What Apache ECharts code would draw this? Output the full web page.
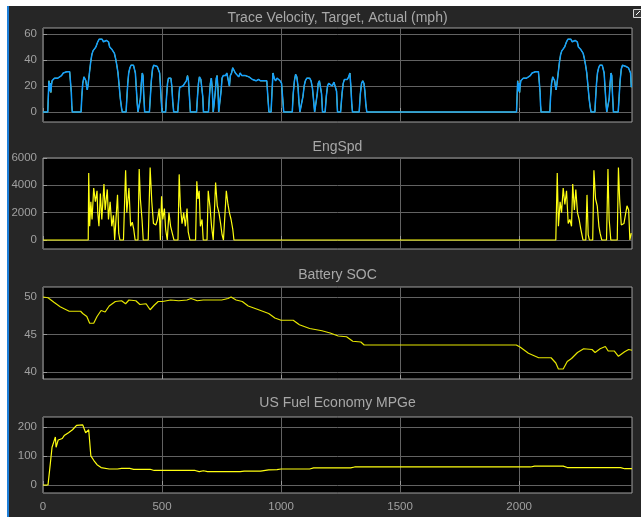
<!DOCTYPE html>
<html>
<head>
<meta charset="utf-8">
<script src="https://cdn.jsdelivr.net/npm/echarts@6/dist/echarts.min.js"></script>
<style>
  html, body { margin: 0; padding: 0; background: #fff; width: 641px; height: 517px; overflow: hidden; }
  .panel { position: absolute; left: 7px; top: 6px; width: 634px; height: 511px; background: #262626; border-left: 2px solid #1e7fd8; box-sizing: border-box; }
  #chart { position: absolute; left: 0; top: 0; width: 641px; height: 517px; }
</style>
</head>
<body>
<div class="panel"></div>
<div id="chart"></div>
<script>
// time axis (s) and tick values
const timeMax = 2474;
const timeTicks = [0, 500, 1000, 1500, 2000];

// vehicle speed (mph): [t, v]
const velCold = [[0,0],[20,0],[22,10],[24,20],[25,24],[26,18],[28,22],[29,16],[31,22],[33,15],[35,20],[38,24],[45,24],[48,26],[55,25],[62,26],[70,27],[78,28],[85,30],[92,31],[100,31],[108,32],[112,31],[115,32],[117,30],[119,15],[121,5],[123,0],[160,0],[163,12],[167,22],[172,27],[176,26],[180,24],[183,20],[186,17],[190,22],[195,30],[200,38],[205,44],[210,47],[215,48],[222,50],[230,54],[236,56],[242,57],[248,56],[254,54],[258,53],[262,53],[266,55],[270,56],[275,54],[280,50],[290,48],[300,45],[305,41],[310,36],[315,30],[320,20],[325,10],[330,3],[333,0],[349,0],[352,10],[356,22],[360,30],[365,34],[370,36],[375,37],[380,36],[384,35],[388,30],[392,18],[396,6],[399,0],[405,0],[409,10],[413,22],[417,30],[420,28],[423,14],[427,0],[447,0],[451,12],[455,24],[460,33],[465,36],[470,36],[480,35],[486,35],[490,30],[494,18],[497,8],[500,0]];
const velStab = [[515,0],[519,12],[523,22],[527,26],[532,25],[537,26],[541,20],[545,8],[549,0],[566,0],[570,10],[574,19],[580,18],[588,20],[596,21],[602,24],[607,28],[611,24],[615,12],[619,0],[645,0],[649,12],[653,22],[657,27],[663,25],[668,24],[671,12],[674,0],[695,0],[699,12],[703,22],[707,26],[711,18],[715,0],[720,0],[724,16],[728,26],[731,28],[735,18],[738,0],[743,0],[748,16],[752,26],[757,28],[762,29],[767,28],[772,30],[778,29],[783,20],[787,28],[792,30],[797,34],[802,33],[808,30],[815,29],[822,27],[828,30],[835,28],[842,29],[850,28],[858,27],[865,27],[872,26],[880,25],[888,26],[895,24],[905,25],[914,24],[920,25],[928,24],[935,25],[940,24],[945,10],[949,0],[958,0],[962,16],[966,30],[971,26],[977,24],[983,26],[990,25],[996,24],[1002,22],[1007,10],[1011,0],[1047,0],[1051,14],[1056,24],[1061,29],[1066,27],[1071,20],[1075,8],[1079,0],[1087,0],[1092,12],[1097,20],[1102,24],[1108,26],[1114,27],[1120,26],[1126,24],[1132,18],[1137,8],[1141,0],[1148,0],[1152,14],[1156,22],[1161,24],[1166,23],[1170,14],[1174,0],[1185,0],[1190,12],[1195,20],[1200,22],[1208,22],[1215,20],[1222,23],[1228,24],[1233,16],[1237,0],[1250,0],[1256,14],[1261,22],[1266,25],[1272,26],[1278,25],[1284,27],[1289,30],[1293,20],[1297,6],[1300,0],[1328,0],[1333,14],[1338,22],[1343,24],[1348,22],[1352,16],[1356,6],[1360,0],[1369,0]];
const velHot = [[1989,0],[1991,10],[1993,20],[1994,24],[1995,18],[1997,22],[1998,16],[2000,22],[2002,15],[2004,20],[2007,24],[2014,24],[2017,26],[2024,25],[2031,26],[2039,27],[2047,28],[2054,30],[2061,31],[2069,31],[2077,32],[2081,31],[2084,32],[2086,30],[2088,15],[2090,5],[2092,0],[2129,0],[2132,12],[2136,22],[2141,27],[2145,26],[2149,24],[2152,20],[2155,17],[2159,22],[2164,30],[2169,38],[2174,44],[2179,47],[2184,48],[2191,50],[2199,54],[2205,56],[2211,57],[2217,56],[2223,54],[2227,53],[2231,53],[2235,55],[2239,56],[2244,54],[2249,50],[2259,48],[2269,45],[2274,41],[2279,36],[2284,30],[2289,20],[2294,10],[2299,3],[2302,0],[2318,0],[2321,10],[2325,22],[2329,30],[2334,34],[2339,36],[2344,37],[2349,36],[2353,35],[2357,30],[2361,18],[2365,6],[2368,0],[2374,0],[2378,10],[2382,22],[2386,30],[2389,28],[2392,14],[2396,0],[2416,0],[2420,12],[2424,24],[2429,33],[2434,36],[2439,36],[2449,35],[2455,35],[2459,34],[2465,35],[2468,30],[2471,19]];

// engine speed (rpm): [t, rpm]
const engCold = [[0,0],[190,0],[192,4900],[196,1000],[201,2800],[206,1500],[213,3800],[220,2800],[227,3600],[230,2000],[235,1000],[241,3400],[247,1500],[256,4100],[261,2200],[270,3700],[275,1500],[282,2800],[289,1000],[296,1800],[301,0],[309,0],[313,3300],[318,500],[323,0],[338,0],[344,3500],[347,5100],[352,2000],[361,3800],[368,1000],[375,1300],[381,800],[387,0],[399,0],[404,5200],[409,3000],[416,1500],[421,0],[442,0],[450,5300],[457,2800],[464,1200],[474,1100],[481,1500],[488,2300],[493,0],[498,3200],[503,1500],[510,2300],[515,800],[522,0],[529,2000],[536,1000],[543,500],[550,0],[567,0],[572,4800],[577,2500],[584,1200],[591,2000],[598,1000],[605,2300],[610,600],[617,0],[641,0],[646,4300],[651,3000],[656,3600],[661,1000],[668,1500],[673,0],[689,0],[694,3600],[701,2500],[708,1000],[715,0],[720,0],[725,4200],[732,2500],[739,2000],[746,1200],[752,400],[758,0],[765,0],[770,3600],[777,2600],[783,2000],[790,1500],[797,800],[802,0],[2154,0]];
const engHot = [[2160,4900],[2165,1000],[2172,2800],[2178,2000],[2185,3800],[2192,2600],[2199,3600],[2206,1200],[2213,1500],[2220,1000],[2225,4100],[2232,2200],[2238,3700],[2245,2000],[2252,1500],[2259,800],[2268,0],[2280,0],[2285,3300],[2290,400],[2295,0],[2309,0],[2314,5100],[2321,3000],[2328,2500],[2335,1000],[2340,500],[2347,0],[2367,0],[2373,5200],[2378,1500],[2385,0],[2412,0],[2417,5300],[2422,3000],[2429,1100],[2440,1200],[2448,1300],[2453,2500],[2460,2200],[2465,0],[2471,500]];

// battery state of charge (%): [t, soc]
const soc = [[0,50.0],[21,49.9],[46,49.3],[72,48.7],[110,48.1],[158,48.1],[167,47.8],[184,47.4],[196,46.5],[213,46.5],[227,47.4],[244,48.2],[261,48.0],[278,48.8],[304,49.4],[330,49.5],[347,49.1],[361,49.6],[390,49.5],[407,49.0],[433,49.1],[450,48.3],[467,48.9],[484,49.4],[502,49.4],[536,49.6],[570,49.5],[605,49.6],[622,49.8],[648,49.5],[673,49.6],[708,49.6],[751,49.6],[777,49.8],[790,50.0],[811,49.6],[837,49.4],[862,48.8],[897,48.4],[948,47.8],[974,47.2],[1000,46.9],[1051,46.9],[1077,46.3],[1120,45.8],[1172,45.5],[1206,45.2],[1240,44.8],[1275,44.7],[1301,44.1],[1335,44.0],[1349,43.6],[1988,43.6],[2005,43.3],[2039,42.5],[2082,41.9],[2134,41.9],[2154,41.2],[2165,40.4],[2185,40.4],[2202,41.4],[2220,41.8],[2245,42.6],[2271,43.1],[2306,43.0],[2319,42.6],[2340,43.1],[2362,43.4],[2374,42.8],[2400,42.8],[2417,42.1],[2443,42.7],[2460,43.0],[2474,42.9]];

// fuel economy (MPGe): [t, mpge]
const mpge = [[0,0],[21,0],[29,60],[38,130],[46,150],[52,165],[55,130],[64,155],[81,160],[89,170],[107,180],[124,190],[132,195],[141,205],[167,207],[172,207],[179,180],[192,190],[196,150],[201,100],[213,85],[227,70],[244,60],[278,55],[313,55],[330,57],[364,57],[381,54],[450,54],[467,50],[639,50],[656,46],[674,49],[691,46],[828,46],[845,48],[914,48],[948,52],[983,53],[1000,55],[1120,55],[1137,59],[1292,59],[1309,62],[2048,62],[2065,65],[2185,65],[2202,60],[2426,60],[2443,56],[2474,56]];

const titles = ['Trace Velocity, Target, Actual (mph)', 'EngSpd', 'Battery SOC', 'US Fuel Economy MPGe'];

const FONT = 'Liberation Sans, Arial, sans-serif';
const grids = [
  { left: 43, top: 28, width: 589, height: 94 },
  { left: 43, top: 158, width: 589, height: 91 },
  { left: 43, top: 287, width: 589, height: 92 },
  { left: 43, top: 417, width: 589, height: 76 }
];
const titleY = [18, 147, 275, 403];

function xAxisFor(i) {
  return {
    gridIndex: i, type: 'value', min: 0, max: timeMax,
    axisLine: { show: false },
    axisTick: { show: true, inside: true, length: 4, customValues: timeTicks, lineStyle: { color: '#9a9a9a' } },
    axisLabel: { show: i === 3, customValues: timeTicks, formatter: v => String(v), color: '#a0a0a0', fontSize: 11.5, fontFamily: FONT, margin: 8 },
    splitLine: { show: true, lineStyle: { color: '#626262', width: 1 } }
  };
}
function yAxisFor(i, min, max, ticks) {
  return {
    gridIndex: i, type: 'value', min: min, max: max,
    axisLine: { show: false },
    axisTick: { show: true, inside: true, length: 4, customValues: ticks, lineStyle: { color: '#9a9a9a' } },
    axisLabel: { customValues: ticks, formatter: v => String(v), color: '#a0a0a0', fontSize: 11.5, fontFamily: FONT, margin: 6 },
    splitLine: { show: true, lineStyle: { color: '#626262', width: 1 } }
  };
}
function lineSeries(i, data, color, width, z) {
  return {
    type: 'line', xAxisIndex: i, yAxisIndex: i, data: data,
    showSymbol: false, symbol: 'none', z: z || 2,
    lineStyle: { color: color, width: width }, itemStyle: { color: color }
  };
}

const chart = echarts.init(document.getElementById('chart'));
const velAll = velCold.concat(velStab, velHot);
chart.setOption({
  animation: false,
  backgroundColor: 'transparent',
  grid: grids.map(g => Object.assign({ show: true, backgroundColor: '#000', borderColor: '#a0a0a0', borderWidth: 1 }, g)),
  xAxis: [0, 1, 2, 3].map(xAxisFor),
  yAxis: [
    yAxisFor(0, -7.7, 64.6, [0, 20, 40, 60]),
    yAxisFor(1, -660, 6000, [0, 2000, 4000, 6000]),
    yAxisFor(2, 39.07, 51.33, [40, 45, 50]),
    yAxisFor(3, -27.6, 234, [0, 100, 200])
  ],
  series: [
    lineSeries(0, velAll, '#ffff11', 1, 2),
    lineSeries(0, velAll, '#139fff', 1.5, 3),
    lineSeries(1, engCold.concat(engHot), '#ffff11', 1.2),
    lineSeries(2, soc, '#e6e600', 1.2),
    lineSeries(3, mpge, '#ffff11', 1.2)
  ],
  graphic: titles.map((t, i) => ({
    type: 'text', x: 337.5, y: titleY[i], silent: true,
    style: { text: t, fill: '#a8a8a8', font: '14px ' + FONT, textAlign: 'center', textVerticalAlign: 'middle' }
  })).concat([
    { type: 'rect', shape: { x: 633.5, y: 9.5, width: 8, height: 8 }, style: { fill: '#3a3a3a', stroke: '#d8d8d8', lineWidth: 1 }, silent: true },
    { type: 'line', shape: { x1: 636, y1: 15, x2: 640, y2: 11 }, style: { stroke: '#ffffff', lineWidth: 1 }, silent: true }
  ])
});
</script>
</body>
</html>
